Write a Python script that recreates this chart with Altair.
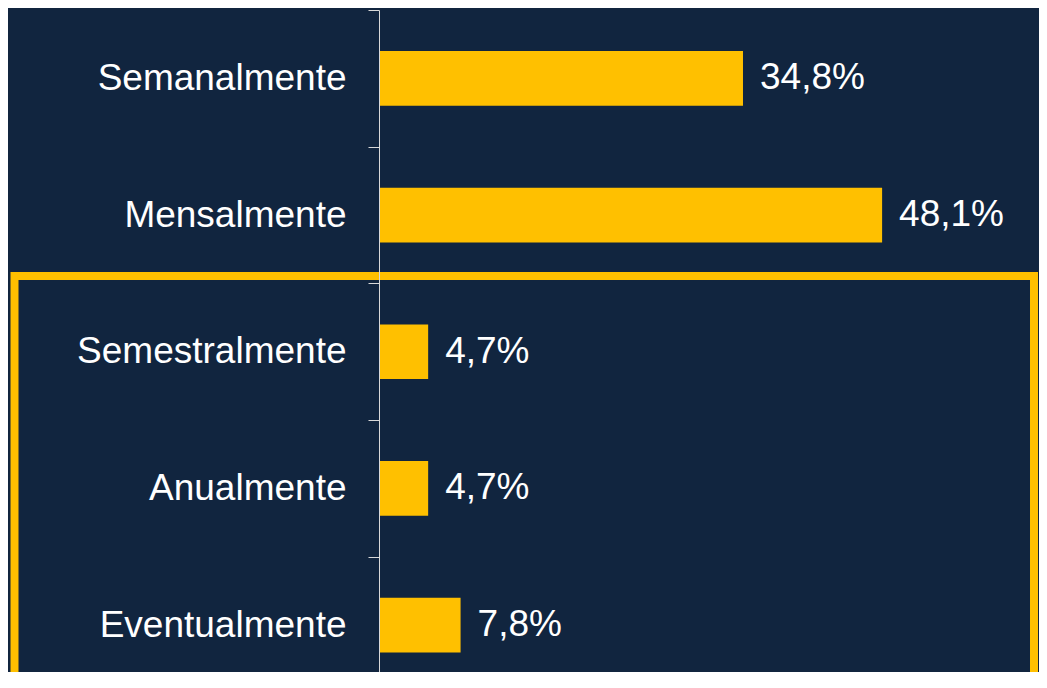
import altair as alt
import pandas as pd

categories = ["Semanalmente", "Mensalmente", "Semestralmente", "Anualmente", "Eventualmente"]
values = [34.8, 48.1, 4.7, 4.7, 7.8]
labels = [f"{v:.1f}".replace(".", ",") + "%" for v in values]

df = pd.DataFrame({"cat": categories, "val": values, "lab": labels})

NAVY = "#11253F"
GOLD = "#FFC000"
FONT = "Liberation Sans"

y_enc = alt.Y(
    "cat:N",
    sort=categories,
    scale=alt.Scale(range=[0, 683.5], paddingInner=0, paddingOuter=0),
    axis=alt.Axis(
        title=None,
        tickBand="extent",
        labelFontSize=37,
        labelFont=FONT,
        labelColor="white",
        labelPadding=22,
        labelLimit=0,
        tickSize=11,
        tickColor="#D9D9D9",
        domainColor="#D9D9D9",
        tickWidth=1,
        domainWidth=1,
        zindex=1,
    ),
)
x_enc = alt.X("val:Q", scale=alt.Scale(domain=[0, 63.1], nice=False), axis=None)

bars = alt.Chart(df).mark_bar(color=GOLD, height=alt.RelativeBandSize(0.4)).encode(
    x=x_enc, y=y_enc
)
text = alt.Chart(df).mark_text(
    align="left", baseline="middle", dx=17, fontSize=37, font=FONT, color="white"
).encode(x=x_enc, y=alt.Y("cat:N", sort=categories), text="lab:N")

box = alt.Chart(pd.DataFrame({"k": [0]})).mark_rect(
    filled=False, stroke=GOLD, strokeWidth=8
).encode(
    x=alt.value(-364.5), x2=alt.value(655), y=alt.value(266), y2=alt.value(700)
)

chart = (
    alt.layer(bars, text, box)
    .properties(
        width=660,
        height=662,
        autosize=alt.AutoSizeParams(type="none"),
        padding={"left": 371, "top": 2, "right": 0, "bottom": 0},
        background=NAVY,
    )
    .configure_view(stroke=None)
)

chart.save("out.html", embed_options={"renderer": "svg", "actions": False})
